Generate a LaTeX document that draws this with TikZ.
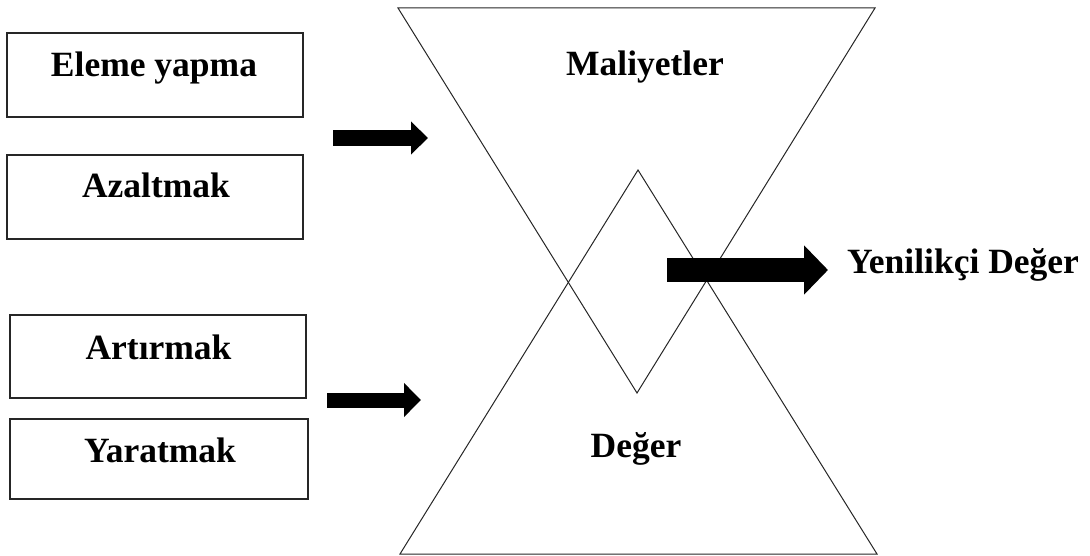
\documentclass[tikz,border=0pt]{standalone}
\usepackage{fontspec}
\setmainfont{Liberation Serif}
\usetikzlibrary{arrows.meta}

\tikzset{
  actionbox/.style={draw=black!85, line width=1.3pt, minimum width=#1, inner sep=0pt},
  lbl/.style={anchor=base, inner sep=0pt, font=\fontsize{35.5}{40}\selectfont\bfseries},
  outline/.style={draw=black!85, line width=1pt, line join=miter},
  fatarrow/.style={line width=#1, black}
}

\begin{document}
\begin{tikzpicture}[x=1pt, y=-1pt]
  \useasboundingbox (0,0) rectangle (1090,556);

  % four action boxes on the left
  \node[actionbox=296pt, minimum height=84pt] (elim) at (155,75) {};
  \node[actionbox=296pt, minimum height=84pt] (redu) at (155,197) {};
  \node[actionbox=296pt, minimum height=83pt] (rais) at (158,356.5) {};
  \node[actionbox=298pt, minimum height=80pt] (crea) at (159,459) {};

  \node[lbl] (elimT) at (154,77) {Eleme yapma};
  \node[lbl] (reduT) at (156,198) {Azaltmak};
  \node[lbl] (raisT) at (158.5,359) {Artırmak};
  \node[lbl] (creaT) at (160,462) {Yaratmak};

  % costs funnel (inverted triangle)
  \coordinate (costTL) at (398,8);
  \coordinate (costTR) at (875,8);
  \coordinate (costB) at (637,393);
  \draw[outline] (costTL) -- (costTR) -- (costB) -- cycle;

  % value pyramid (upright triangle)
  \coordinate (valT) at (638,170);
  \coordinate (valBL) at (400,554);
  \coordinate (valBR) at (877,554);
  \draw[outline] (valT) -- (valBR) -- (valBL) -- cycle;

  \node[lbl] (costT) at (645,76) {Maliyetler};
  \node[lbl] (valTx) at (636,457) {Değer};
  \node[lbl, anchor=base west] (innov) at (847,273) {Yenilikçi Değer};

  % block arrows
  \coordinate (a1s) at (333,138);
  \coordinate (a1e) at (428,138);
  \coordinate (a2s) at (327,400);
  \coordinate (a2e) at (421,400);
  \coordinate (a3s) at (667,270);
  \coordinate (a3e) at (828,270);
  \draw[fatarrow=16pt, -{Triangle[length=17pt, width=32pt]}] (a1s) -- (a1e);
  \draw[fatarrow=15pt, -{Triangle[length=17pt, width=33pt]}] (a2s) -- (a2e);
  \draw[fatarrow=24pt, -{Triangle[length=24pt, width=48pt]}] (a3s) -- (a3e);
\end{tikzpicture}
\end{document}
